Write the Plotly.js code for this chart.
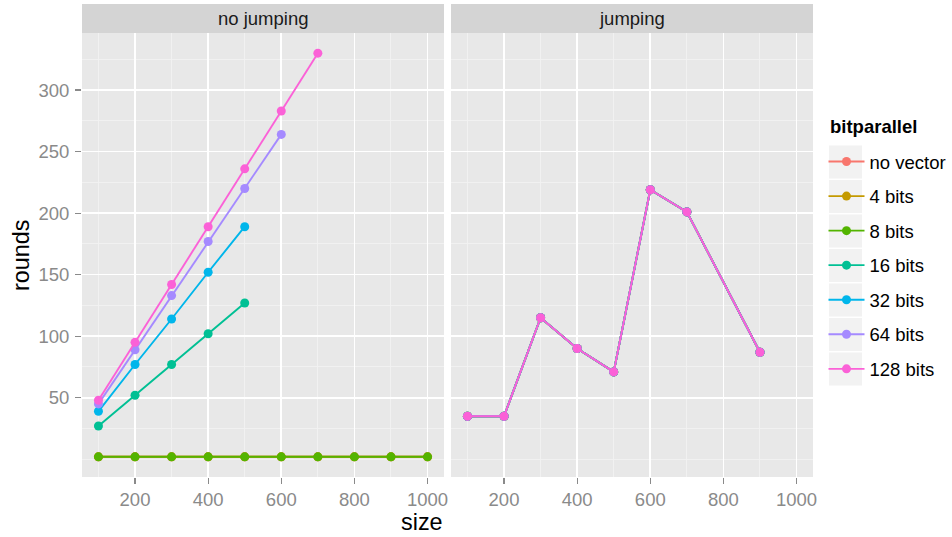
<!DOCTYPE html>
<html>
<head>
<meta charset="utf-8">
<script src="https://cdn.plot.ly/plotly-3.0.1.min.js"></script>
<style>html,body{margin:0;padding:0;background:#fff;}#chart{width:952px;height:537px;}</style>
</head>
<body>
<div id="chart"></div>
<script>
// ---- data ----
const seriesNames = ["no vector", "4 bits", "8 bits", "16 bits", "32 bits", "64 bits", "128 bits"];
const seriesColors = ["#F8766D", "#C49A00", "#53B400", "#00C094", "#00B6EB", "#A58AFF", "#FB61D7"];
const facetNames = ["no jumping", "jumping"];
const legendTitle = "bitparallel";

// no jumping panel
const noJumpX = {
  "no vector": [100, 200, 300, 400, 500, 600, 700, 800, 900, 1000],
  "4 bits":    [100, 200, 300, 400, 500, 600, 700, 800, 900, 1000],
  "8 bits":    [100, 200, 300, 400, 500, 600, 700, 800, 900, 1000],
  "16 bits":   [100, 200, 300, 400, 500],
  "32 bits":   [100, 200, 300, 400, 500],
  "64 bits":   [100, 200, 300, 400, 500, 600],
  "128 bits":  [100, 200, 300, 400, 500, 600, 700]
};
const noJumpY = {
  "no vector": [2, 2, 2, 2, 2, 2, 2, 2, 2, 2],
  "4 bits":    [2, 2, 2, 2, 2, 2, 2, 2, 2, 2],
  "8 bits":    [2, 2, 2, 2, 2, 2, 2, 2, 2, 2],
  "16 bits":   [27, 52, 77, 102, 127],
  "32 bits":   [39, 77, 114, 152, 189],
  "64 bits":   [45, 89, 133, 177, 220, 264],
  "128 bits":  [48, 95, 142, 189, 236, 283, 330]
};
// jumping panel (all variants coincide)
const jumpX = [100, 200, 300, 400, 500, 600, 700, 900];
const jumpY = [35, 35, 115, 90, 71, 219, 201, 87];

const xTicks = [200, 400, 600, 800, 1000];
const yTicks = [50, 100, 150, 200, 250, 300];

// ---- traces ----
const traces = [];
seriesNames.forEach((name, i) => {
  traces.push({
    x: noJumpX[name], y: noJumpY[name], xaxis: "x", yaxis: "y",
    type: "scatter", mode: "lines+markers", name: name,
    legendgroup: name, showlegend: true,
    line: {color: seriesColors[i], width: 1.9},
    marker: {color: seriesColors[i], size: 9}
  });
});
seriesNames.forEach((name, i) => {
  traces.push({
    x: jumpX, y: jumpY, xaxis: "x2", yaxis: "y",
    type: "scatter", mode: "lines+markers", name: name,
    legendgroup: name, showlegend: false,
    line: {color: seriesColors[i], width: 1.9},
    marker: {color: seriesColors[i], size: 9}
  });
});

const W = 952, H = 537;
const L = 82, R = 813, T = 33, B = 477;
const pw = R - L, ph = B - T;
const d1 = [0, (444 - L) / pw];
const d2 = [(451 - L) / pw, 1];
const FF = "Liberation Sans, Arial, sans-serif";

const tickFont = {family: FF, size: 18.5, color: "#8A8A8A"};

function xaxisCfg(domain, anchor) {
  return {
    domain: domain, anchor: anchor, range: [55, 1045],
    tickvals: xTicks, ticktext: xTicks.map(String),
    ticks: "outside", ticklen: 6, tickwidth: 1.3, tickcolor: "#8A8A8A",
    tickfont: tickFont, showgrid: true, gridcolor: "#FFFFFF", gridwidth: 1.6,
    zeroline: false, showline: false, automargin: false,
    minor: {tick0: 100, dtick: 200, showgrid: true, gridcolor: "#F3F3F3", gridwidth: 0.8, ticks: ""}
  };
}

const layout = {
  width: W, height: H,
  margin: {l: L, r: W - R, t: T, b: H - B, pad: 0, autoexpand: false},
  paper_bgcolor: "#FFFFFF", plot_bgcolor: "#E8E8E8",
  font: {family: FF, color: "#000"},
  showlegend: true,
  xaxis: xaxisCfg(d1, "y"),
  xaxis2: xaxisCfg(d2, "y"),
  yaxis: {
    domain: [0, 1], anchor: "x", range: [-14.4, 346.4],
    tickvals: yTicks, ticktext: yTicks.map(String),
    ticks: "outside", ticklen: 6, tickwidth: 1.3, tickcolor: "#8A8A8A",
    tickfont: tickFont, showgrid: true, gridcolor: "#FFFFFF", gridwidth: 1.6,
    zeroline: false, showline: false, ticklabelstandoff: 2, automargin: false,
    minor: {tick0: 0, dtick: 25, showgrid: true, gridcolor: "#F3F3F3", gridwidth: 0.8, ticks: ""}
  },
  legend: {
    x: (823.5 - L) / pw, xanchor: "left", xref: "paper",
    y: (B - 143) / ph, yanchor: "top",
    bgcolor: "rgba(0,0,0,0)", borderwidth: 0,
    traceorder: "grouped", tracegroupgap: 7.5, itemwidth: 36,
    font: {family: FF, size: 18.5, color: "#000"}
  },
  shapes: [
    {type: "rect", xref: "paper", yref: "paper", x0: d1[0], x1: d1[1], y0: 1, y1: 1 + 29 / ph,
     fillcolor: "#D4D4D4", line: {width: 0}},
    {type: "rect", xref: "paper", yref: "paper", x0: d2[0], x1: d2[1], y0: 1, y1: 1 + 29 / ph,
     fillcolor: "#D4D4D4", line: {width: 0}}
  ],
  annotations: [
    {text: facetNames[0], xref: "paper", yref: "paper", x: (d1[0] + d1[1]) / 2, y: 1 + 14.5 / ph,
     xanchor: "center", yanchor: "middle", showarrow: false,
     font: {family: FF, size: 18.5, color: "#1A1A1A"}},
    {text: facetNames[1], xref: "paper", yref: "paper", x: (d2[0] + d2[1]) / 2, y: 1 + 14.5 / ph,
     xanchor: "center", yanchor: "middle", showarrow: false,
     font: {family: FF, size: 18.5, color: "#1A1A1A"}},
    {text: "size", xref: "paper", yref: "paper", x: (422 - L) / pw, y: -(521.5 - B) / ph,
     xanchor: "center", yanchor: "middle", showarrow: false,
     font: {family: FF, size: 23.4, color: "#000"}},
    {text: "rounds", xref: "paper", yref: "paper", x: -(L - 21) / pw, y: 0.5, textangle: -90,
     xanchor: "center", yanchor: "middle", showarrow: false,
     font: {family: FF, size: 23.4, color: "#000"}},
    {text: "<b>" + legendTitle + "</b>", xref: "paper", yref: "paper", x: (828 - L) / pw, y: (B - 127) / ph,
     xanchor: "left", yanchor: "middle", showarrow: false,
     font: {family: FF, size: 18.5, color: "#000"}}
  ]
};

// legend key backgrounds
seriesNames.forEach((name, i) => {
  const cy = 162 + i * 34.5;
  layout.shapes.push({
    type: "rect", xref: "paper", yref: "paper",
    x0: (829 - L) / pw, x1: (862 - L) / pw,
    y0: (B - (cy + 16.5)) / ph, y1: (B - (cy - 16.5)) / ph,
    fillcolor: "#F2F2F2", line: {width: 0}
  });
});

Plotly.newPlot("chart", traces, layout, {displayModeBar: false, staticPlot: true});
</script>
</body>
</html>
